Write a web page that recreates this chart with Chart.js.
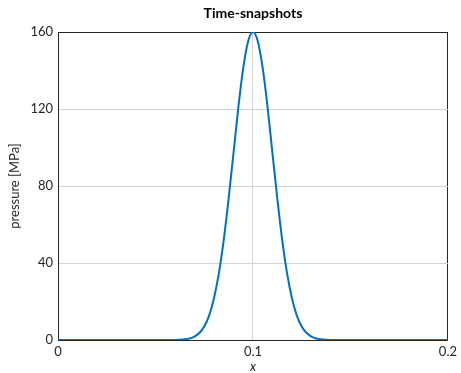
<!DOCTYPE html>
<html><head><meta charset="utf-8">
<script src="https://cdn.jsdelivr.net/npm/chart.js@4"></script>
<style>html,body{margin:0;padding:0;background:#fff}#wrap{width:461px;height:373px}</style>
</head><body><div id="wrap"><canvas id="c" width="461" height="373"></canvas></div>
<script>
const titleText = 'Time-snapshots';
const xLabel = 'x';
const yLabel = 'pressure [MPa]';
const xTicks = [0, 0.1, 0.2];
const yTicks = [0, 40, 80, 120, 160];
const xs = [0, 0.05, 0.06, 0.0625, 0.065, 0.0675, 0.07, 0.0725, 0.075, 0.0775, 0.08, 0.0825, 0.085, 0.0875, 0.09, 0.0925, 0.095, 0.0975, 0.1,
            0.1025, 0.105, 0.1075, 0.11, 0.1125, 0.115, 0.1175, 0.12, 0.1225, 0.125, 0.1275, 0.13, 0.1325, 0.135, 0.1375, 0.14, 0.15, 0.2];
const pressure = [0, 0, 0.05, 0.14, 0.35, 0.8, 1.8, 3.6, 7.0, 12.7, 21.7, 34.6, 51.9, 73.3, 97.0, 120.8, 141.2, 155.1, 160,
            155.1, 141.2, 120.8, 97.0, 73.3, 51.9, 34.6, 21.7, 12.7, 7.0, 3.6, 1.8, 0.8, 0.35, 0.14, 0.05, 0, 0];

const FONT = 'Lato, "DejaVu Sans", sans-serif';
const TXT = '#262626';
const GRID = '#d4d4d4';

new Chart(document.getElementById('c'), {
  type: 'line',
  data: { datasets: [{
    data: xs.map((x, i) => ({x: x, y: pressure[i]})),
    borderColor: '#0072BD', borderWidth: 2, pointRadius: 0,
    cubicInterpolationMode: 'monotone', fill: false
  }]},
  options: {
    responsive: false, animation: false,
    layout: { padding: { left: 0, right: 12, top: 0, bottom: 0 } },
    plugins: {
      legend: { display: false }, tooltip: { enabled: false },
      title: { display: true, text: titleText, fullSize: false, color: '#000',
        font: { family: FONT, size: 14, weight: 'bold', lineHeight: 1.2 },
        padding: { top: 5, bottom: 10.2 } }
    },
    scales: {
      x: { type: 'linear', min: 0, max: 0.2,
        afterBuildTicks: s => { s.ticks = xTicks.map(v => ({value: v})); },
        afterFit: s => { s.height = 33; },
        ticks: { color: TXT, font: { family: FONT, size: 13 }, padding: 4, maxRotation: 0,
          callback: v => String(v) },
        grid: { drawTicks: false, lineWidth: 1,
          color: c => (c.index === xTicks.length - 1 ? TXT : GRID) },
        border: { display: true, color: TXT, width: 1 },
        title: { display: true, text: xLabel, color: TXT,
          font: { family: FONT, size: 13, style: 'italic', lineHeight: 0.9 }, padding: { top: 0, bottom: 0 } }
      },
      y: { type: 'linear', min: 0, max: 160,
        afterBuildTicks: s => { s.ticks = yTicks.map(v => ({value: v})); },
        afterFit: s => { s.width = 58; },
        ticks: { color: TXT, font: { family: FONT, size: 13 }, padding: 5 },
        grid: { drawTicks: false, lineWidth: 1,
          color: c => (c.index === yTicks.length - 1 ? TXT : GRID) },
        border: { display: true, color: TXT, width: 1 },
        title: { display: true, text: yLabel, color: TXT,
          font: { family: FONT, size: 13 }, padding: { top: 7, bottom: 0 } }
      }
    }
  }
});
</script></body></html>
